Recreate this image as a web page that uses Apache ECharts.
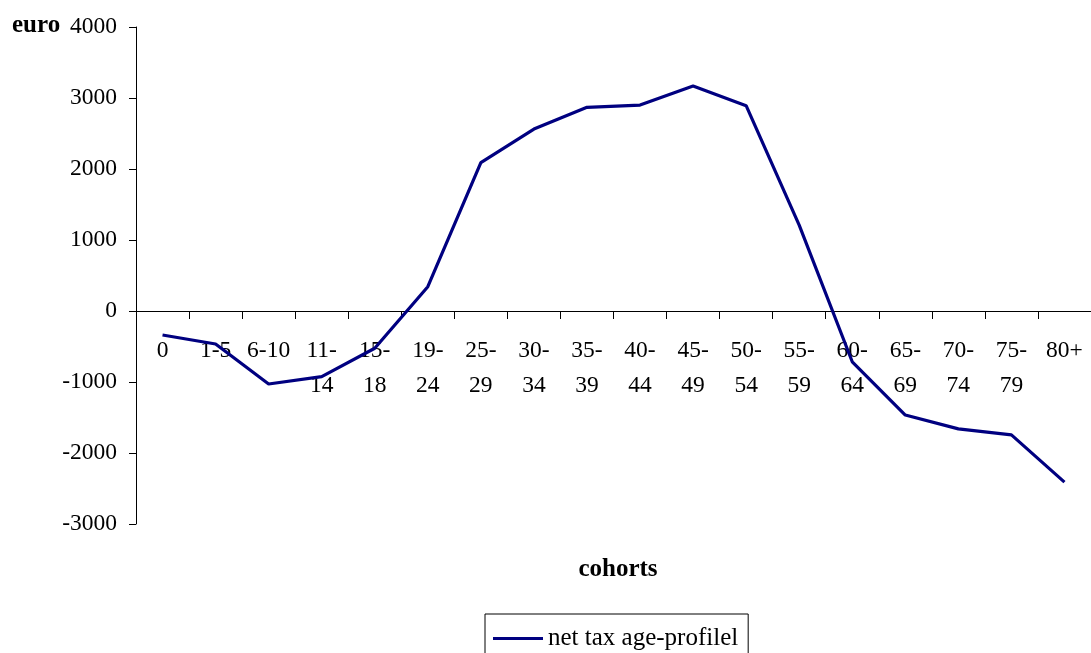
<!DOCTYPE html>
<html>
<head>
<meta charset="utf-8">
<script src="https://cdn.jsdelivr.net/npm/echarts@6/dist/echarts.min.js"></script>
<style>
html,body{margin:0;padding:0;background:#fff;}
#chart{width:1091px;height:653px;}
</style>
</head>
<body>
<div id="chart"></div>
<script>
const categories = ["0","1-5","6-10","11-14","15-18","19-24","25-29","30-34","35-39","40-44","45-49","50-54","55-59","60-64","65-69","70-74","75-79","80+"];
const netTax = [-338,-465,-1028,-925,-525,342,2090,2563,2869,2901,3169,2892,1210,-715,-1465,-1660,-1745,-2410];
const seriesName = "net tax age-profilel";
const yTicks = {min:-3000, max:4000, interval:1000};
const yTitle = "euro";
const xTitle = "cohorts";

const serif = "'Liberation Serif','Times New Roman',serif";
const gridTop = 27, gridHeight = 497;
// place the category axis on the y=0 line (labels included)
const zeroOffset = -gridHeight * (0 - yTicks.min) / (yTicks.max - yTicks.min);

const chart = echarts.init(document.getElementById('chart'), null, {renderer:'canvas'});
chart.setOption({
  animation:false,
  backgroundColor:'#fff',
  grid:{left:136, top:gridTop, width:961, height:gridHeight, containLabel:false},
  legend:{
    show:true,
    data:[{name:seriesName, icon:'rect'}],
    left:485, top:614,
    padding:[12,10,12,8],
    borderColor:'#000', borderWidth:1,
    itemWidth:50, itemHeight:3,
    textStyle:{fontFamily:serif, fontSize:25, color:'#000'}
  },
  graphic:[
    {type:'text', left:12, top:13, style:{text:yTitle, font:"bold 25px "+serif, fill:'#000'}},
    {type:'text', x:618, y:570, style:{text:xTitle, font:"bold 25px "+serif, fill:'#000', textAlign:'center', textVerticalAlign:'middle'}}
  ],
  xAxis:{
    type:'category',
    data:categories,
    boundaryGap:true,
    position:'bottom',
    offset:zeroOffset,
    axisLine:{onZero:false, lineStyle:{color:'#000', width:1}},
    axisTick:{show:true, interval:0, length:8, inside:false, lineStyle:{color:'#000'}},
    axisLabel:{
      interval:0, margin:22, lineHeight:35,
      fontFamily:serif, fontSize:23.5, color:'#000',
      formatter:function(v){ return /^\d{2}-\d{2}$/.test(v) ? v.replace('-', '-\n') : v; }
    },
    splitLine:{show:false}
  },
  yAxis:{
    type:'value',
    min:yTicks.min, max:yTicks.max, interval:yTicks.interval,
    axisLine:{show:true, lineStyle:{color:'#000', width:1}},
    axisTick:{show:true, length:7, lineStyle:{color:'#000'}},
    axisLabel:{margin:19, fontFamily:serif, fontSize:23.5, color:'#000', formatter:function(v){return String(v);}},
    splitLine:{show:false}
  },
  series:[{
    name:seriesName,
    type:'line',
    data:netTax,
    symbol:'none',
    showSymbol:false,
    lineStyle:{color:'#000080', width:3.2},
    itemStyle:{color:'#000080'}
  }]
});
</script>
</body>
</html>
